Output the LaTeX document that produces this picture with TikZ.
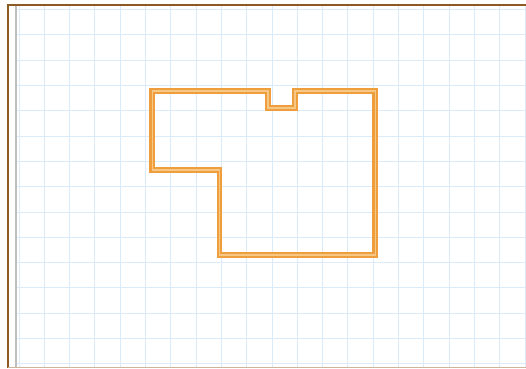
\documentclass[tikz,border=0pt]{standalone}
\definecolor{gridblue}{HTML}{DCEBFA}
\definecolor{framebrown}{HTML}{8E5A24}
\definecolor{sidegray}{HTML}{BEBEBE}
\definecolor{wallout}{HTML}{EE9E3C}
\definecolor{wallin}{HTML}{F7C786}
\tikzset{
  gridline/.style={draw=gridblue, line width=1pt},
  frameline/.style={draw=framebrown, line width=1.6pt},
  wallouter/.style={draw=wallout, line width=5.8pt, line join=miter},
  wallinner/.style={draw=wallin, line width=1.6pt, line join=miter}
}
\begin{document}
\begin{tikzpicture}[x=1pt,y=-1pt]
\useasboundingbox (0,0) rectangle (526,368);
\fill[white] (0,0) rectangle (526,368);
% grid
\foreach \k in {0,...,20} {
  \pgfmathsetmacro{\xx}{19+25.3*\k}
  \draw[gridline] (\xx,6) -- (\xx,368);
}
\foreach \k in {0,...,14} {
  \pgfmathsetmacro{\yy}{9.6+25.3*\k}
  \draw[gridline] (16,\yy) -- (526,\yy);
}
% side gray rule
\draw[draw=sidegray, line width=2pt] (15.7,6) -- (15.7,368);
% frame
\draw[frameline] (526,5) -- (7.7,5) -- (7.7,368);
\draw[draw=framebrown!45, line width=1pt] (7.7,367.2) -- (526,367.2);
% plan outline
\coordinate (p1) at (152.3,90.7);
\coordinate (p2) at (268,90.7);
\coordinate (p3) at (268,107.8);
\coordinate (p4) at (295,107.8);
\coordinate (p5) at (295,90.7);
\coordinate (p6) at (375.3,90.7);
\coordinate (p7) at (375.3,255);
\coordinate (p8) at (219.5,255);
\coordinate (p9) at (219.5,170);
\coordinate (p10) at (152.3,170);
\draw[wallouter] (p1) -- (p2) -- (p3) -- (p4) -- (p5) -- (p6) -- (p7) -- (p8) -- (p9) -- (p10) -- cycle;
\draw[wallinner] (p1) -- (p2) -- (p3) -- (p4) -- (p5) -- (p6) -- (p7) -- (p8) -- (p9) -- (p10) -- cycle;
\end{tikzpicture}
\end{document}
